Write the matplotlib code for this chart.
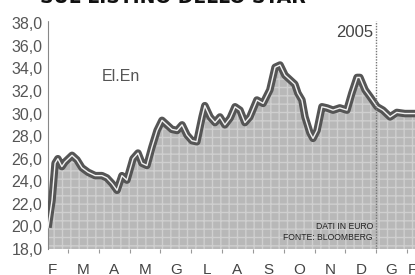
import matplotlib
matplotlib.use("Agg")
import matplotlib.pyplot as plt
import numpy as np

# ---- data (month index: 0 = start of February 2004) ----
months_x = [0.35, 0.48, 0.58, 0.67, 0.80, 0.90, 1.13, 1.29, 1.45, 1.65, 1.88, 2.10,
            2.26, 2.43, 2.59, 2.75, 2.91, 3.11, 3.27, 3.40, 3.56, 3.72, 3.89, 4.05,
            4.21, 4.37, 4.54, 4.70, 4.86, 5.02, 5.18, 5.35, 5.44, 5.61, 5.77, 5.93,
            6.09, 6.26, 6.42, 6.58, 6.74, 6.90, 7.13, 7.33, 7.55, 7.72, 7.88, 8.04,
            8.20, 8.36, 8.46, 8.59, 8.69, 8.85, 8.95, 9.08, 9.24, 9.40, 9.60, 9.82,
            10.05, 10.21, 10.38, 10.47, 10.64, 10.80, 11.03, 11.22, 11.45, 11.67,
            11.93, 12.19, 12.30]
price = [19.9, 22.3, 25.6, 26.0, 25.3, 25.7, 26.3, 25.9, 25.2, 24.8, 24.5, 24.5,
         24.3, 23.8, 23.2, 24.5, 24.1, 26.0, 26.5, 25.6, 25.4, 27.0, 28.5, 29.4,
         29.0, 28.6, 28.5, 29.0, 28.1, 27.6, 27.5, 29.7, 30.7, 29.7, 29.2, 29.7,
         29.0, 29.6, 30.6, 30.3, 29.2, 29.7, 31.2, 30.9, 32.1, 34.1, 34.3, 33.4,
         33.0, 32.6, 31.8, 31.2, 29.7, 28.3, 27.8, 28.5, 30.6, 30.5, 30.3, 30.5,
         30.3, 31.8, 33.2, 33.2, 32.1, 31.5, 30.6, 30.3, 29.7, 30.1, 30.0, 30.0,
         30.0]
month_labels = ["F", "M", "A", "M", "G", "L", "A", "S", "O", "N", "D", "G", "F"]
y_ticks = [18, 20, 22, 24, 26, 28, 30, 32, 34, 36, 38]
year_mark = 11.0
title = "SUL LISTINO DELLO STAR"
stock_name = "El.En"
note_lines = ["DATI IN EURO", "FONTE: BLOOMBERG"]

narrow = ["Liberation Sans Narrow", "Liberation Sans", "DejaVu Sans"]

fig = plt.figure(figsize=(4.15, 2.75), dpi=100)
ax = fig.add_axes([48/415, 26/275, 1 - 48/415, 228/275])
xmin, xmax = 0.35, 12.26
ax.set_xlim(xmin, xmax)
ax.set_ylim(18, 38.2)

ax.fill_between(months_x, price, 18, facecolor="#b8b8b8", edgecolor="#cfcfcf",
                hatch="++", lw=0, zorder=1)
ax.plot(months_x, price, color="#555555", lw=5.4, solid_capstyle="butt",
        solid_joinstyle="round", zorder=3)
ax.plot(months_x, price, color="#f2f2f2", lw=1.0, zorder=4)

ax.axvline(year_mark, color="#777777", lw=1.0, ls=(0, (1, 1)), zorder=5)
ax.text(year_mark - 0.1, 37.2, "2005", ha="right", va="center", fontsize=12,
        color="#444444", family=narrow)
ax.text(2.72, 33.3, stock_name, ha="center", va="center", fontsize=11.5,
        color="#555555", family=narrow)
ax.text(year_mark - 0.1, 20.0, note_lines[0], ha="right", va="center", fontsize=6.2,
        color="#222222", family=narrow, zorder=6)
ax.text(year_mark - 0.1, 19.0, note_lines[1], ha="right", va="center", fontsize=6.2,
        color="#222222", family=narrow, zorder=6)

for s in ["top", "right"]:
    ax.spines[s].set_visible(False)
ax.spines["left"].set_color("#888888")
ax.spines["left"].set_linestyle((0, (1, 1)))
ax.spines["bottom"].set_visible(False)

ax.set_yticks(y_ticks)
ax.set_yticklabels([f"{v:.1f}".replace(".", ",") for v in y_ticks],
                   family=narrow, fontsize=11.5, color="#555555")
ax.tick_params(axis="y", length=0, pad=4)

ax.set_xticks(np.arange(1, 13))
ax.set_xticklabels([])
ax.tick_params(axis="x", length=3, color="#999999", direction="out")
for i, lab in enumerate(month_labels):
    xp = min(i + 0.5, xmax - 0.1)
    ax.text(xp, -0.09, lab, transform=ax.get_xaxis_transform(), ha="center",
            va="center", fontsize=11, color="#444444", family=narrow, clip_on=False)

fig.text(40/415, 1 - 3/275, title, ha="left", va="baseline", fontsize=13.5,
         fontweight="heavy", color="#111111")

fig.savefig("out.png", dpi=100)
